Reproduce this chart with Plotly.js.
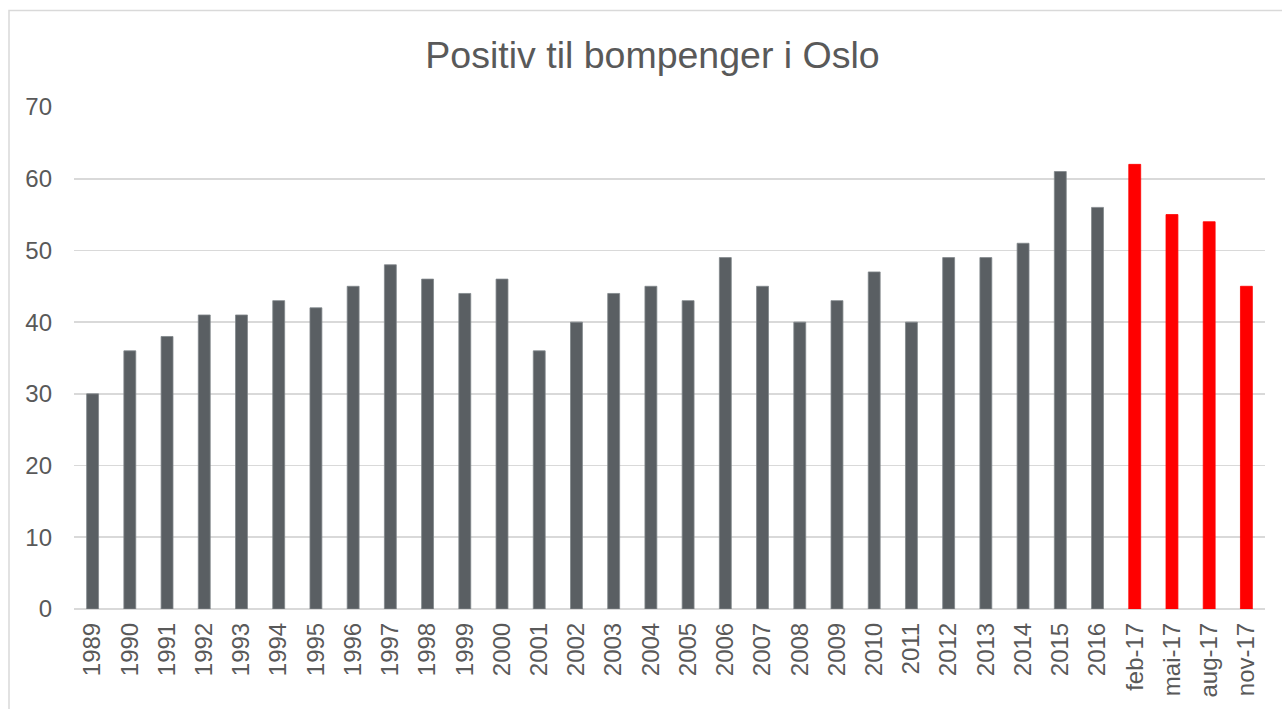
<!DOCTYPE html>
<html>
<head>
<meta charset="utf-8">
<script src="https://cdn.plot.ly/plotly-3.0.1.min.js"></script>
<style>
html,body{margin:0;padding:0;background:#fff;}
#chart{width:1282px;height:709px;}
</style>
</head>
<body>
<div id="chart"></div>
<script>
const categories = ["1989","1990","1991","1992","1993","1994","1995","1996","1997","1998","1999","2000","2001","2002","2003","2004","2005","2006","2007","2008","2009","2010","2011","2012","2013","2014","2015","2016","feb-17","mai-17","aug-17","nov-17"];
const values = [30,36,38,41,41,43,42,45,48,46,44,46,36,40,44,45,43,49,45,40,43,47,40,49,49,51,61,56,62,55,54,45];
const highlighted = ["feb-17","mai-17","aug-17","nov-17"];
const grayColor = "#5a5f63";
const redColor = "#ff0000";

const colors = categories.map(c => highlighted.includes(c) ? redColor : grayColor);
const lineColors = categories.map(c => highlighted.includes(c) ? redColor : "#80868a");

const trace = {
  type: "bar",
  x: categories,
  y: values,
  marker: {color: colors, line: {color: lineColors, width: 0.8}},
  hoverinfo: "x+y"
};

const layout = {
  width: 1282, height: 709,
  margin: {l: 74, r: 17, t: 107, b: 100},
  paper_bgcolor: "#ffffff",
  plot_bgcolor: "#ffffff",
  bargap: 0.68,
  showlegend: false,
  font: {family: "Liberation Sans, Arial, sans-serif", color: "#595959", size: 24},
  title: {
    text: "Positiv til bompenger i Oslo",
    font: {family: "Liberation Sans, Arial, sans-serif", size: 37.5, color: "#595959"},
    x: 0.509, xanchor: "center", y: 0.922, yanchor: "middle"
  },
  xaxis: {
    type: "category",
    tickangle: -90,
    showgrid: false,
    showline: false,
    ticks: "",
    ticklabelstandoff: 8,
    tickfont: {size: 24, color: "#595959"}
  },
  yaxis: {
    range: [0, 70],
    dtick: 10,
    tick0: 0,
    showgrid: true,
    gridcolor: "#d9d9d9",
    gridwidth: 1.6,
    zeroline: true,
    zerolinecolor: "#d9d9d9",
    zerolinewidth: 1.6,
    ticks: "",
    ticklabelstandoff: 21,
    tickfont: {size: 24, color: "#595959"}
  },
  shapes: [{
    type: "rect", xref: "paper", yref: "paper",
    x0: (9 - 74) / 1191, x1: 1.1, y0: -0.3, y1: (609 - 10.5) / 502,
    line: {color: "#d9d9d9", width: 1.5},
    fillcolor: "rgba(0,0,0,0)",
    layer: "below"
  }]
};

Plotly.newPlot("chart", [trace], layout, {displayModeBar: false, staticPlot: true});
</script>
</body>
</html>
